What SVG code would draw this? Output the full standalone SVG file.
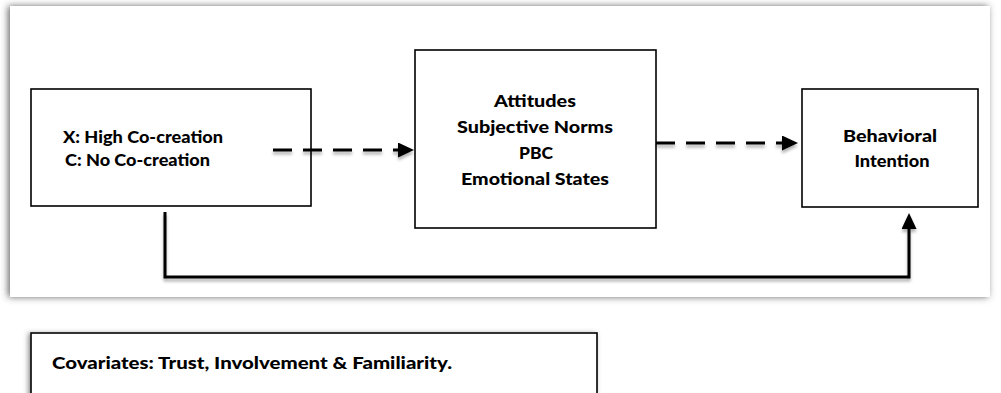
<svg xmlns="http://www.w3.org/2000/svg" width="1001" height="393" viewBox="0 0 1001 393">
  <defs>
    <filter id="frameShadow" x="-5%" y="-10%" width="110%" height="120%">
      <feDropShadow dx="-2" dy="0" stdDeviation="3.5" flood-color="#444" flood-opacity="0.8"/>
    </filter>
    <filter id="boxShadow" x="-10%" y="-20%" width="120%" height="140%">
      <feDropShadow dx="-2" dy="1" stdDeviation="2.5" flood-color="#444" flood-opacity="0.6"/>
    </filter>
    <filter id="lineShadow" filterUnits="userSpaceOnUse" x="0" y="0" width="1001" height="393">
      <feDropShadow dx="0" dy="3" stdDeviation="1.8" flood-color="#000" flood-opacity="0.3"/>
    </filter>
    <marker id="arrow" markerUnits="userSpaceOnUse" markerWidth="17" markerHeight="15" refX="0" refY="7.5" orient="auto">
      <path d="M0,0 L16,7.5 L0,15 z" fill="#000"/>
    </marker>
  </defs>
  <style>
    .box { fill: #fff; stroke: #000; stroke-width: 1.6; }
    .lbl { font-family: Lato, "Open Sans", "Liberation Sans", sans-serif; font-weight: 900; font-size: 17px; fill: #000; }
    .mid { text-anchor: middle; }
    .conn { fill: none; stroke: #000; stroke-width: 3; }
    .dash { stroke-dasharray: 19 11; }
  </style>
  <rect x="0" y="0" width="1001" height="393" fill="#fff"/>
  <rect id="frame" x="10" y="6" width="980" height="291" fill="#fff" filter="url(#frameShadow)"/>

  <g id="node-treatment">
    <rect class="box" x="31" y="89" width="280" height="117"/>
    <text class="lbl" x="63" y="143" textLength="160" lengthAdjust="spacingAndGlyphs">X: High Co-creation</text>
    <text class="lbl" x="65" y="166" textLength="145" lengthAdjust="spacingAndGlyphs">C: No Co-creation</text>
  </g>

  <g id="node-mediators">
    <rect class="box" x="415" y="50" width="241" height="178"/>
    <text class="lbl mid" x="535" y="107" textLength="82" lengthAdjust="spacingAndGlyphs">Attitudes</text>
    <text class="lbl mid" x="535" y="133" textLength="156" lengthAdjust="spacingAndGlyphs">Subjective Norms</text>
    <text class="lbl mid" x="536" y="159" textLength="34" lengthAdjust="spacingAndGlyphs">PBC</text>
    <text class="lbl mid" x="535" y="185" textLength="148" lengthAdjust="spacingAndGlyphs">Emotional States</text>
  </g>

  <g id="node-intention">
    <rect class="box" x="802" y="89" width="176" height="118"/>
    <text class="lbl mid" x="890" y="142" textLength="94" lengthAdjust="spacingAndGlyphs">Behavioral</text>
    <text class="lbl mid" x="892" y="167" textLength="75" lengthAdjust="spacingAndGlyphs">Intention</text>
  </g>

  <g id="connectors" filter="url(#lineShadow)">
    <line class="conn dash" x1="273" y1="150" x2="398" y2="150" marker-end="url(#arrow)"/>
    <line class="conn dash" x1="656" y1="143" x2="782" y2="143" marker-end="url(#arrow)"/>
    <path class="conn" d="M165,212 V277 H909 V229" marker-end="url(#arrow)"/>
  </g>

  <g id="node-covariates">
    <rect class="box" x="31" y="333" width="566" height="80" filter="url(#boxShadow)"/>
    <text class="lbl" x="52" y="369" textLength="400" lengthAdjust="spacingAndGlyphs">Covariates: Trust, Involvement &amp; Familiarity.</text>
  </g>
</svg>
